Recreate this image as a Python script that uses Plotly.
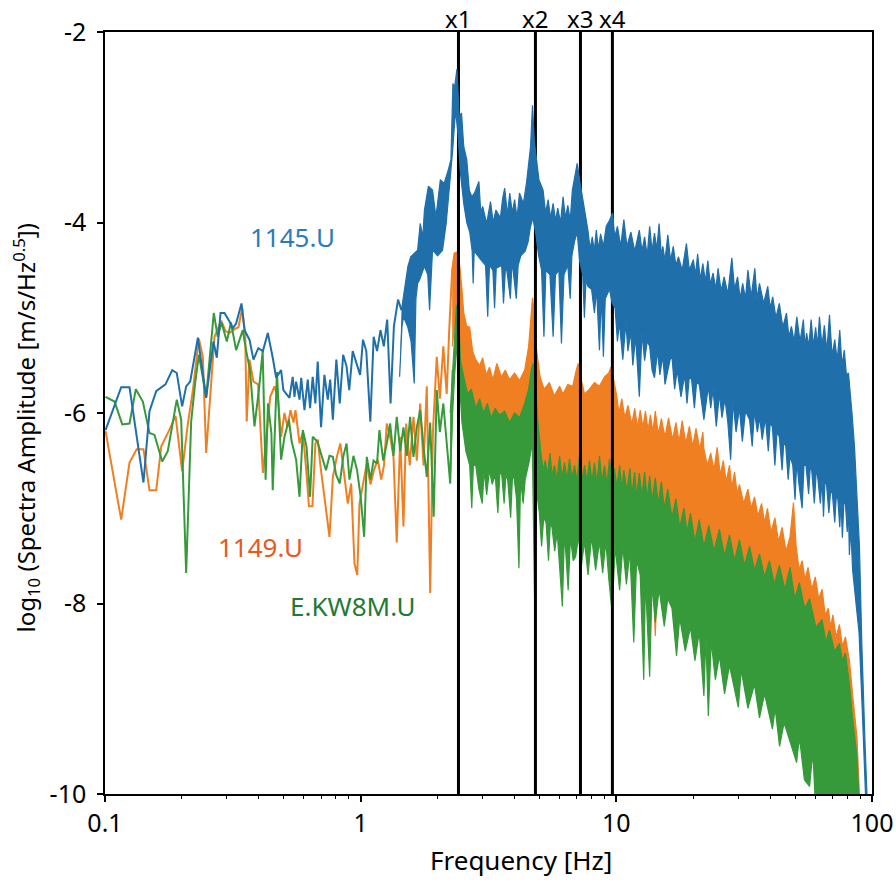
import math
import plotly.graph_objects as go

# ---------------- data ----------------
harmonic_freqs = [2.413, 4.826, 7.239, 9.652]
harmonic_labels = ["x1", "x2", "x3", "x4"]

# ---- 1145.U (blue) ----
f_1145_line = [0.1005, 0.1157, 0.1247, 0.1414, 0.1493, 0.1586, 0.1724, 0.1832, 0.1909, 0.2003,
               0.2077, 0.2154, 0.2308, 0.2487, 0.2656, 0.2737, 0.2830, 0.2934, 0.3069, 0.3160,
               0.3257, 0.3419, 0.3512, 0.3674, 0.3808, 0.3978, 0.4146, 0.4333, 0.4530, 0.4671,
               0.4884, 0.4986, 0.5266, 0.5422, 0.5509, 0.5592, 0.5765, 0.5853, 0.6029, 0.6209,
               0.6340, 0.6492, 0.6651, 0.6792, 0.7000, 0.7213, 0.7436, 0.7600, 0.7785, 0.8034,
               0.8283, 0.8540, 0.8808, 0.9021, 0.9307, 0.9659, 0.9950, 1.021, 1.052, 1.091,
               1.124, 1.159, 1.196, 1.232, 1.270, 1.309, 1.349, 1.400, 1.444]
amp_1145_line = [-6.18, -5.73, -5.73, -6.73, -5.98, -5.77, -5.70, -5.55, -5.58, -5.93,
                 -5.72, -5.67, -5.21, -5.84, -5.25, -5.42, -4.95, -4.95, -5.04, -5.11,
                 -5.06, -4.85, -5.13, -5.23, -5.44, -5.32, -5.35, -5.16, -5.42, -5.63,
                 -5.55, -5.76, -5.84, -5.62, -5.83, -5.67, -5.86, -5.63, -5.97, -5.65,
                 -5.95, -5.62, -5.90, -5.46, -6.15, -5.60, -5.86, -5.65, -6.07, -5.44,
                 -5.90, -5.39, -5.51, -5.76, -5.35, -5.48, -5.60, -5.23, -5.35, -6.09,
                 -5.20, -5.35, -5.13, -5.30, -5.02, -5.90, -5.09, -4.81, -4.92]
f_1145_top = [1.444, 1.489, 1.53, 1.57, 1.67, 1.71, 1.75, 1.776, 1.84, 1.91,
              1.97, 2.05, 2.12, 2.20, 2.255, 2.295, 2.33, 2.38, 2.43, 2.48,
              2.53, 2.60, 2.66, 2.72, 2.79, 2.90, 2.95, 3.00, 3.11, 3.22,
              3.30, 3.38, 3.52, 3.59, 3.66, 3.75, 3.83, 3.92, 4.00, 4.09,
              4.18, 4.33, 4.45, 4.62, 4.70, 4.78, 4.98, 5.17, 5.29, 5.41,
              5.53, 5.66, 5.78, 5.90, 6.05, 6.19, 6.32, 6.46, 6.60, 6.73,
              6.86, 7.03, 7.22, 7.45, 7.74, 7.90, 8.05, 8.20, 8.35, 8.50,
              8.68, 8.90, 9.13, 9.40, 9.67, 9.85, 10.1, 10.4, 10.7, 11.0,
              11.4, 11.8, 12.3, 12.6, 12.9, 13.2, 13.5, 13.8, 14.1, 14.4,
              14.7, 15.0, 15.2, 15.5, 15.9, 16.3, 16.7, 17.1, 17.5, 18.1,
              18.8, 19.3, 20.0, 20.4, 20.8, 21.3, 21.8, 22.3, 22.8, 23.3,
              23.9, 24.5, 25.0, 25.7, 26.4, 27.3, 28.3, 29.0, 29.8, 30.5,
              31.2, 32.0, 32.7, 33.7, 34.8, 35.5, 36.3, 37.7, 39.1, 40.0,
              40.9, 42.1, 43.4, 44.8, 46.3, 47.3, 48.4, 49.6, 50.8, 52.3,
              53.9, 54.7, 55.5, 56.6, 57.8, 59.0, 60.2, 61.2, 62.3, 63.7,
              65.1, 66.6, 68.2, 69.8, 71.5, 73.1, 74.8, 76.3, 77.9, 79.4,
              80.9, 83.5, 85.4, 89.3, 91.3, 94.0, 95.5, 96.5]
amp_1145_top = [-4.92, -4.67, -4.46, -4.36, -4.29, -4.01, -4.15, -3.87, -3.62, -3.66,
                -3.94, -3.55, -3.59, -3.45, -3.34, -2.54, -2.58, -2.39, -2.89, -2.85,
                -3.20, -3.34, -3.66, -3.73, -3.69, -3.57, -3.90, -3.83, -4.01, -3.78,
                -4.00, -3.87, -3.95, -3.75, -3.64, -3.92, -3.69, -3.90, -3.76, -3.95,
                -3.69, -3.80, -3.59, -3.20, -2.77, -3.15, -3.55, -3.66, -3.90, -3.76,
                -3.95, -3.80, -3.98, -3.85, -4.00, -3.73, -3.95, -3.82, -3.98, -3.66,
                -3.52, -3.38, -3.59, -3.80, -4.08, -4.28, -4.15, -4.30, -4.08, -4.28,
                -4.12, -4.25, -4.04, -3.98, -3.90, -4.15, -4.04, -4.25, -3.97, -4.25,
                -4.10, -4.30, -4.08, -4.30, -4.15, -4.35, -4.04, -4.30, -4.11, -4.28,
                -4.01, -4.35, -4.25, -4.40, -4.13, -4.40, -4.25, -4.45, -4.36, -4.50,
                -4.22, -4.50, -4.39, -4.55, -4.33, -4.60, -4.43, -4.62, -4.40, -4.65,
                -4.53, -4.70, -4.48, -4.72, -4.57, -4.75, -4.37, -4.70, -4.57, -4.80,
                -4.64, -4.80, -4.50, -4.78, -4.48, -4.80, -4.64, -4.85, -4.67, -4.90,
                -4.78, -5.00, -4.85, -5.10, -4.95, -5.20, -5.09, -5.25, -4.99, -5.25,
                -5.02, -5.30, -5.16, -5.30, -5.02, -5.30, -5.10, -5.30, -4.99, -5.30,
                -5.08, -5.35, -4.97, -5.40, -5.23, -5.45, -5.13, -5.50, -5.34, -5.60,
                -5.58, -6.00, -6.35, -7.40, -8.45, -9.50, -10.0, -10.3]
f_1145_bot = [1.42, 1.45, 1.47, 1.53, 1.575, 1.62, 1.645, 1.67, 1.70, 1.776,
              1.83, 1.86, 1.91, 2.00, 2.09, 2.16, 2.22, 2.29, 2.35, 2.40,
              2.46, 2.53, 2.60, 2.67, 2.73, 2.755, 2.78, 2.87, 2.97, 3.08,
              3.14, 3.19, 3.29, 3.34, 3.39, 3.56, 3.62, 3.68, 3.73, 3.85,
              3.91, 4.06, 4.13, 4.23, 4.40, 4.52, 4.61, 4.71, 4.83, 4.97,
              5.10, 5.21, 5.30, 5.50, 5.66, 5.78, 5.96, 6.10, 6.24, 6.46,
              6.60, 6.70, 6.86, 7.03, 7.18, 7.39, 7.50, 7.61, 7.74, 8.00,
              8.21, 8.37, 8.59, 8.73, 8.90, 9.05, 9.40, 9.64, 9.89, 10.1,
              10.28, 10.6, 10.9, 11.1, 11.4, 11.6, 11.9, 12.3, 12.6, 12.9,
              13.2, 13.5, 13.8, 14.1, 14.5, 14.8, 15.2, 15.5, 15.9, 16.2,
              16.5, 16.9, 17.3, 17.9, 18.5, 18.9, 19.3, 19.7, 20.2, 20.6,
              21.1, 22.0, 22.9, 23.4, 23.9, 24.6, 25.3, 25.9, 26.6, 27.3,
              28.0, 28.6, 29.4, 30.3, 31.1, 32.0, 33.2, 34.0, 34.7, 35.6,
              36.4, 37.2, 38.3, 39.3, 40.0, 40.8, 41.7, 42.5, 43.4, 44.5,
              45.2, 46.0, 47.0, 47.8, 49.0, 50.0, 50.8, 51.8, 53.3, 54.2,
              55.2, 56.5, 57.3, 58.1, 59.5, 60.5, 61.2, 62.8, 63.8, 64.6,
              65.5, 66.4, 67.8, 69.0, 70.0, 71.5, 72.5, 73.5, 74.8, 75.6,
              76.6, 77.6, 78.7, 80.0, 80.8, 81.6, 82.6, 84.0, 89.0, 91.7,
              94.3, 95.0]
amp_1145_bot = [-5.62, -5.10, -4.99, -5.10, -5.25, -5.69, -4.80, -4.64, -4.60, -4.46,
                -4.55, -4.92, -4.29, -4.35, -4.29, -4.01, -3.66, -3.24, -2.82, -3.06,
                -3.50, -3.80, -4.00, -4.10, -4.30, -4.64, -4.30, -4.35, -4.40, -4.45,
                -4.99, -4.45, -4.50, -4.90, -4.48, -4.45, -4.85, -4.50, -4.50, -4.80,
                -4.40, -4.80, -4.45, -4.35, -4.30, -4.20, -4.05, -3.95, -4.10, -4.35,
                -4.50, -5.20, -4.50, -4.55, -5.20, -4.55, -4.50, -5.27, -4.55, -4.45,
                -4.80, -4.35, -4.20, -4.10, -4.40, -4.55, -5.00, -4.60, -4.67, -4.70,
                -4.95, -4.70, -5.34, -4.75, -5.41, -4.80, -4.70, -4.85, -4.90, -5.25,
                -5.05, -5.44, -5.05, -5.35, -5.15, -5.50, -5.20, -5.83, -5.16, -5.45,
                -5.25, -5.30, -5.55, -5.63, -5.35, -5.60, -5.40, -5.70, -5.56, -5.45,
                -5.40, -5.75, -5.55, -5.83, -5.60, -5.90, -5.62, -5.65, -5.95, -5.68,
                -5.70, -6.07, -5.72, -5.95, -5.75, -6.14, -5.80, -6.05, -5.85, -6.10,
                -6.49, -5.88, -6.20, -5.95, -6.30, -5.98, -6.07, -6.35, -5.98, -6.20,
                -6.05, -6.28, -6.05, -6.40, -6.10, -6.15, -6.55, -6.20, -6.25, -6.60,
                -6.30, -6.35, -6.70, -6.45, -6.55, -6.91, -6.50, -6.75, -7.00, -6.55,
                -6.55, -6.85, -6.58, -6.60, -6.95, -6.62, -6.65, -6.95, -6.70, -7.09,
                -6.72, -6.75, -7.05, -6.80, -6.85, -7.15, -6.88, -6.90, -7.20, -6.92,
                -7.31, -6.95, -6.95, -7.25, -7.00, -7.49, -7.20, -7.65, -8.31, -9.15,
                -10.0, -10.3]

# ---- 1149.U (orange) ----
f_1149_line = [0.1005, 0.1157, 0.1247, 0.133, 0.1414, 0.1493, 0.1586, 0.166, 0.1776, 0.1888,
               0.2003, 0.211, 0.2207, 0.2329, 0.2414, 0.2487, 0.2681, 0.2849, 0.2961, 0.3069,
               0.321, 0.3327, 0.344, 0.3533, 0.3584, 0.3674, 0.3808, 0.397, 0.4146, 0.4283,
               0.4427, 0.46, 0.475, 0.4884, 0.5035, 0.5176, 0.5314, 0.546, 0.556, 0.5765,
               0.594, 0.6124, 0.6277, 0.6476, 0.6651, 0.68, 0.6943, 0.7213, 0.7551, 0.7785,
               0.807, 0.8326, 0.8643, 0.8902, 0.918, 0.9458, 0.9697, 0.9893, 1.021, 1.0565,
               1.092, 1.127, 1.167, 1.203, 1.234, 1.265, 1.304, 1.344, 1.384, 1.428,
               1.47, 1.507, 1.556, 1.609, 1.658, 1.709, 1.761, 1.814, 1.87, 1.917,
               1.984, 2.04, 2.105, 2.17, 2.22, 2.28, 2.33]
amp_1149_line = [-6.19, -7.12, -6.52, -6.38, -6.38, -6.81, -6.81, -6.35, -6.19, -6.03,
                 -6.61, -6.11, -5.76, -5.22, -5.41, -6.42, -5.20, -5.03, -5.14, -5.16,
                 -5.12, -5.10, -4.90, -5.16, -6.09, -5.44, -5.67, -5.70, -6.63, -6.25,
                 -5.83, -5.72, -5.85, -6.25, -6.00, -6.15, -5.97, -6.10, -5.97, -6.32,
                 -6.20, -6.60, -6.98, -6.98, -6.32, -6.28, -6.53, -6.88, -7.30, -6.67,
                 -6.46, -6.32, -6.70, -6.95, -6.74, -7.58, -7.70, -6.95, -6.75, -6.53,
                 -6.75, -6.60, -6.49, -6.70, -6.55, -6.11, -6.25, -6.46, -7.36, -6.25,
                 -7.19, -6.11, -6.55, -6.04, -6.50, -5.90, -6.55, -5.72, -7.89, -6.20,
                 -5.41, -5.85, -5.30, -5.80, -5.13, -4.50, -4.32]
f_1149_top = [2.28, 2.33, 2.38, 2.44, 2.49, 2.53, 2.60, 2.67, 2.74, 2.82,
              2.92, 3.00, 3.10, 3.19, 3.29, 3.41, 3.55, 3.68, 3.82, 4.00,
              4.18, 4.38, 4.54, 4.63, 4.70, 4.78, 4.88, 5.03, 5.22, 5.47,
              5.72, 6.00, 6.18, 6.46, 6.75, 6.93, 7.09, 7.25, 7.51, 7.85,
              8.21, 8.59, 8.99, 9.34, 9.52, 9.71, 10.0, 10.25, 10.5, 10.8,
              11.1, 11.5, 11.8, 12.1, 12.4, 12.7, 13.0, 13.3, 13.6, 13.9,
              14.2, 14.6, 15.0, 15.5, 16.0, 16.6, 17.1, 17.6, 18.1, 18.7,
              19.3, 19.9, 20.5, 21.2, 21.8, 22.0, 22.7, 23.4, 24.1, 24.8,
              25.5, 26.2, 26.9, 27.7, 28.3, 29.0, 29.7, 30.3, 31.5, 32.7,
              33.7, 34.7, 35.8, 37.0, 38.0, 39.0, 40.3, 41.7, 43.1, 44.5,
              46.1, 47.8, 49.3, 50.5, 51.9, 53.3, 54.7, 56.2, 58.1, 60.0,
              61.9, 63.8, 65.6, 67.5, 68.9, 70.3, 72.4, 74.6, 76.6, 78.7,
              81.6, 84.3, 87.3, 89.3, 90.0]
amp_1149_top = [-4.50, -4.32, -4.31, -4.45, -4.70, -4.95, -5.09, -5.10, -5.35, -5.44,
                -5.50, -5.42, -5.60, -5.52, -5.65, -5.48, -5.62, -5.55, -5.65, -5.58,
                -5.66, -5.55, -5.30, -4.95, -4.79, -4.95, -5.35, -5.62, -5.75, -5.68,
                -5.82, -5.72, -5.80, -5.70, -5.72, -5.58, -5.48, -5.62, -5.80, -5.75,
                -5.68, -5.72, -5.62, -5.58, -5.52, -5.62, -5.80, -6.00, -5.85, -6.05,
                -5.92, -6.12, -5.95, -6.15, -5.97, -6.15, -5.98, -6.18, -6.02, -6.20,
                -5.98, -6.22, -6.06, -6.25, -6.05, -6.28, -6.10, -6.30, -6.08, -6.32,
                -6.14, -6.35, -6.16, -6.38, -6.20, -6.38, -6.55, -6.42, -6.60, -6.36,
                -6.65, -6.50, -6.72, -6.55, -6.78, -6.62, -6.85, -6.75, -6.95, -6.80,
                -7.00, -6.88, -7.08, -6.95, -7.15, -7.00, -7.25, -7.10, -7.35, -7.20,
                -7.45, -7.30, -6.94, -7.40, -7.65, -7.55, -7.75, -7.62, -7.85, -7.72,
                -7.95, -7.85, -8.12, -8.05, -8.25, -8.12, -8.35, -8.22, -8.45, -8.35,
                -8.60, -9.00, -9.40, -10.0, -10.3]
f_1149_bot = [2.28, 2.38, 2.50, 2.70, 3.00, 3.50, 4.00, 4.50, 4.80, 5.00,
              5.50, 6.50, 8.00, 10.0, 12.3, 13.9, 14.2, 14.5, 17.0, 20.0,
              25.0, 30.0, 40.0, 50.0, 60.0, 66.0, 90.0]
amp_1149_bot = [-5.30, -4.90, -5.60, -6.20, -6.40, -6.50, -6.55, -6.30, -6.00, -6.50,
                -7.00, -7.10, -7.15, -7.20, -7.50, -7.60, -8.34, -7.65, -7.90, -8.10,
                -8.40, -8.60, -9.00, -9.40, -9.70, -10.3, -10.3]

# ---- E.KW8M.U (green) ----
f_kw8m_line = [0.1005, 0.109, 0.1168, 0.1247, 0.132, 0.1406, 0.1493, 0.1562, 0.1674, 0.176,
               0.1909, 0.1986, 0.2077, 0.2173, 0.2249, 0.2329, 0.2487, 0.2664, 0.276, 0.2856,
               0.2995, 0.311, 0.3257, 0.334, 0.3458, 0.3563, 0.369, 0.3843, 0.4006, 0.4138,
               0.4248, 0.434, 0.4475, 0.453, 0.4705, 0.4884, 0.5035, 0.524, 0.537, 0.5592,
               0.5765, 0.5942, 0.614, 0.634, 0.6492, 0.677, 0.7091, 0.7318, 0.7551, 0.7785,
               0.802, 0.8283, 0.856, 0.8808, 0.904, 0.937, 0.968, 1.0, 1.032, 1.057,
               1.092, 1.123, 1.159, 1.184, 1.225, 1.265, 1.304, 1.344, 1.384, 1.428,
               1.47, 1.515, 1.561, 1.609, 1.658, 1.709, 1.761, 1.814, 1.87, 1.93,
               1.984, 2.04, 2.105, 2.17, 2.24, 2.29]
amp_kw8m_line = [-5.83, -5.88, -6.12, -6.11, -5.75, -5.88, -6.21, -6.23, -6.51, -6.40,
                 -5.86, -6.07, -7.68, -6.09, -5.70, -5.39, -5.83, -4.95, -5.20, -5.05,
                 -5.25, -5.05, -5.34, -5.25, -5.13, -5.34, -5.55, -6.14, -5.74, -5.35,
                 -6.70, -5.90, -6.21, -6.81, -5.57, -6.49, -6.25, -6.07, -6.30, -6.49,
                 -6.88, -6.18, -6.35, -6.88, -6.25, -6.30, -6.49, -6.60, -6.45, -6.46,
                 -6.65, -6.74, -6.45, -6.32, -6.70, -6.45, -6.60, -6.88, -7.30, -6.46,
                 -6.70, -6.50, -6.53, -6.18, -6.50, -6.32, -6.11, -6.45, -6.04, -6.40,
                 -6.15, -6.45, -6.04, -6.46, -6.15, -5.97, -6.35, -6.67, -6.10, -7.09,
                 -5.76, -6.20, -5.90, -6.30, -6.74, -5.55]
f_kw8m_top = [2.24, 2.29, 2.33, 2.37, 2.42, 2.46, 2.53, 2.62, 2.71, 2.82,
              2.92, 3.02, 3.13, 3.24, 3.36, 3.49, 3.66, 3.82, 4.00, 4.18,
              4.38, 4.54, 4.65, 4.72, 4.82, 4.92, 5.06, 5.17, 5.27, 5.38,
              5.50, 5.61, 5.73, 5.86, 6.00, 6.13, 6.27, 6.41, 6.56, 6.71,
              6.86, 7.02, 7.18, 7.34, 7.51, 7.68, 7.85, 8.03, 8.21, 8.40,
              8.59, 8.79, 8.99, 9.19, 9.40, 9.61, 9.83, 10.05, 10.3, 10.5,
              10.7, 11.0, 11.3, 11.5, 11.8, 12.0, 12.3, 12.6, 12.9, 13.2,
              13.5, 13.8, 14.2, 14.6, 15.0, 15.4, 15.9, 16.5, 17.1, 17.7,
              18.4, 18.9, 19.5, 20.3, 21.1, 22.0, 23.0, 24.1, 25.3, 26.5,
              27.7, 29.0, 30.3, 31.7, 33.2, 34.7, 36.3, 38.0, 39.7, 41.5,
              43.4, 45.6, 47.8, 49.9, 52.0, 54.5, 57.0, 60.3, 63.8, 66.0,
              68.2, 71.4, 74.6, 76.6, 78.7, 81.6, 84.3, 87.3, 88.7, 89.3]
amp_kw8m_top = [-6.00, -5.55, -5.20, -4.87, -5.05, -5.45, -5.62, -5.80, -5.75, -5.95,
                -5.85, -6.00, -5.90, -6.05, -5.95, -6.02, -5.98, -6.10, -6.00, -6.05,
                -5.90, -5.75, -5.55, -5.48, -5.65, -6.05, -6.40, -6.60, -6.50, -6.65,
                -6.42, -6.65, -6.55, -6.70, -6.45, -6.68, -6.52, -6.70, -6.48, -6.68,
                -6.55, -6.72, -6.45, -6.70, -6.55, -6.72, -6.50, -6.72, -6.52, -6.74,
                -6.45, -6.72, -6.55, -6.75, -6.48, -6.75, -6.58, -6.78, -6.55, -6.80,
                -6.60, -6.82, -6.58, -6.85, -6.62, -6.88, -6.63, -6.88, -6.62, -6.90,
                -6.66, -6.92, -6.68, -6.95, -6.72, -7.00, -6.80, -7.10, -6.90, -7.20,
                -7.00, -7.25, -7.05, -7.35, -7.12, -7.40, -7.18, -7.45, -7.22, -7.50,
                -7.28, -7.55, -7.33, -7.60, -7.40, -7.65, -7.48, -7.72, -7.55, -7.80,
                -7.60, -7.85, -7.62, -7.95, -7.78, -8.05, -7.95, -8.25, -8.17, -8.40,
                -8.28, -8.50, -8.42, -8.60, -8.52, -8.85, -9.25, -9.60, -10.0, -10.3]
f_kw8m_bot = [2.24, 2.29, 2.33, 2.38, 2.42, 2.49, 2.58, 2.67, 2.72, 2.76,
              2.82, 2.90, 2.99, 3.04, 3.11, 3.19, 3.27, 3.36, 3.44, 3.50,
              3.55, 3.64, 3.70, 3.76, 3.86, 3.92, 3.97, 4.07, 4.16, 4.22,
              4.32, 4.40, 4.57, 4.69, 4.79, 4.87, 5.00, 5.10, 5.20, 5.31,
              5.43, 5.52, 5.60, 5.74, 5.87, 6.15, 6.27, 6.48, 6.62, 6.78,
              6.93, 7.12, 7.30, 7.51, 7.75, 8.00, 8.30, 8.59, 8.84, 9.10,
              9.35, 9.63, 9.89, 10.3, 10.6, 10.95, 11.3, 11.7, 12.0, 12.4,
              12.8, 13.0, 13.5, 13.8, 14.2, 14.7, 15.4, 15.9, 16.5, 17.2,
              17.7, 18.6, 19.5, 20.3, 21.1, 22.0, 22.4, 22.9, 23.5, 24.4,
              25.3, 26.5, 27.7, 30.0, 30.8, 32.7, 34.7, 36.3, 38.0, 40.8,
              41.8, 43.5, 45.3, 50.7, 52.0, 54.4, 57.0, 58.7, 60.5, 89.3]
amp_kw8m_bot = [-6.74, -6.00, -5.60, -5.30, -5.55, -6.10, -6.40, -6.55, -7.00, -6.55,
                -6.55, -6.80, -6.95, -6.60, -6.86, -6.60, -6.75, -6.65, -7.05, -6.65,
                -6.60, -6.95, -6.65, -6.70, -7.10, -6.70, -6.65, -6.90, -7.63, -6.70,
                -6.95, -6.70, -6.50, -6.30, -7.96, -6.80, -7.05, -7.40, -7.10, -7.15,
                -7.55, -7.15, -7.20, -7.45, -7.25, -8.03, -7.25, -7.86, -7.30, -7.55,
                -7.51, -7.30, -7.60, -7.35, -7.70, -7.30, -7.65, -7.35, -7.68, -7.35,
                -7.75, -8.10, -7.40, -7.86, -7.40, -7.80, -7.45, -8.41, -7.55, -7.70,
                -8.80, -7.75, -8.77, -7.80, -8.20, -7.85, -8.24, -7.95, -8.05, -8.55,
                -8.15, -8.50, -8.25, -8.60, -8.30, -8.97, -8.35, -9.18, -8.40, -8.80,
                -8.55, -8.95, -8.65, -9.09, -8.70, -9.10, -8.85, -9.20, -8.95, -9.32,
                -9.10, -9.50, -9.25, -9.67, -9.40, -9.85, -9.92, -9.55, -10.3, -10.3]

# label texts and positions (Hz, log10 amplitude)
series_names = ["1145.U", "1149.U", "E.KW8M.U"]
label_freqs = [0.541, 0.406, 0.937]
label_amps = [-4.15, -7.41, -8.03]

# ---------------- styling ----------------
C_BLUE = "#1f6fab"
C_ORANGE = "#f07f22"
C_GREEN = "#369a3a"
LABEL_COLORS = ["#2b7bbb", "#e65a1c", "#217a36"]
FONT = "Noto Sans"

fig = go.Figure()


def add_series(f_line, a_line, f_top, a_top, f_bot, a_bot, color):
    poly_x = list(f_top) + list(reversed(f_bot))
    poly_y = list(a_top) + list(reversed(a_bot))
    fig.add_trace(go.Scatter(x=poly_x, y=poly_y, mode="lines", fill="toself",
                             fillcolor=color, line=dict(color=color, width=1.2),
                             hoverinfo="skip", showlegend=False))
    fig.add_trace(go.Scatter(x=f_line, y=a_line, mode="lines",
                             line=dict(color=color, width=2), showlegend=False))


add_series(f_1149_line, amp_1149_line, f_1149_top, amp_1149_top, f_1149_bot, amp_1149_bot, C_ORANGE)
add_series(f_kw8m_line, amp_kw8m_line, f_kw8m_top, amp_kw8m_top, f_kw8m_bot, amp_kw8m_bot, C_GREEN)

# harmonic marker lines
for fh in harmonic_freqs:
    fig.add_trace(go.Scatter(x=[fh, fh], y=[-10, -2], mode="lines",
                             line=dict(color="black", width=3), showlegend=False,
                             hoverinfo="skip"))

add_series(f_1145_line, amp_1145_line, f_1145_top, amp_1145_top, f_1145_bot, amp_1145_bot, C_BLUE)

# harmonic labels above the plot (top of text box at the top of the figure)
for fh, lab in zip(harmonic_freqs, harmonic_labels):
    fig.add_annotation(x=math.log10(fh), y=1.0 + 32 / 762, xref="x", yref="paper",
                       xanchor="center", yanchor="top", yshift=0, text=lab,
                       showarrow=False, font=dict(family=FONT, size=24, color="black"))

# series labels
for name, lf, la, col in zip(series_names, label_freqs, label_amps, LABEL_COLORS):
    fig.add_annotation(x=math.log10(lf), y=la, xref="x", yref="y", text=name,
                       xanchor="center", yanchor="middle",
                       showarrow=False, font=dict(family=FONT, size=26, color=col))

# axis titles as annotations
fig.add_annotation(x=0.5424, y=-0.0866, xref="paper", yref="paper",
                   xanchor="center", yanchor="middle",
                   text="Frequency [Hz]", showarrow=False,
                   font=dict(family=FONT, size=26, color="black"))
fig.add_annotation(x=-0.103, y=0.481, xref="paper", yref="paper", textangle=-90,
                   xanchor="center", yanchor="middle",
                   text="log<sub>10</sub> (Spectra Amplitude [m/s/Hz<sup>0.5</sup>])",
                   showarrow=False, font=dict(family=FONT, size=24, color="black"))

minor_x = [m * 10 ** e for e in (-1, 0, 1) for m in range(2, 10)]

fig.update_xaxes(type="log", range=[-1, 2], tickvals=[0.1, 1, 10, 100],
                 ticktext=["0.1", "1", "10", "100"], ticks="outside", ticklen=6,
                 tickwidth=1.5, tickcolor="black", showline=True, linecolor="black",
                 linewidth=1.5, mirror=True, showgrid=False, zeroline=False,
                 automargin=False,
                 tickfont=dict(family=FONT, size=25, color="black"),
                 minor=dict(tickvals=minor_x, ticks="outside", ticklen=3.5,
                            tickwidth=1, tickcolor="black", showgrid=False))
fig.update_yaxes(range=[-10, -2], tickvals=[-2, -4, -6, -8, -10],
                 ticktext=["-2", "-4", "-6", "-8", "-10"], ticks="outside", ticklen=6,
                 tickwidth=1.5, tickcolor="black", showline=True, linecolor="black",
                 linewidth=1.5, mirror=True, showgrid=False, zeroline=False,
                 automargin=False, ticklabelstandoff=6,
                 tickfont=dict(family=FONT, size=25, color="black"))

fig.update_layout(width=896, height=883, plot_bgcolor="white", paper_bgcolor="white",
                  margin=dict(l=105, r=24, t=32, b=89), showlegend=False)

fig.write_html("out.html", config={"displayModeBar": False},
               post_script="document.body.style.margin='0px';"
                           "document.body.style.overflow='hidden';")
